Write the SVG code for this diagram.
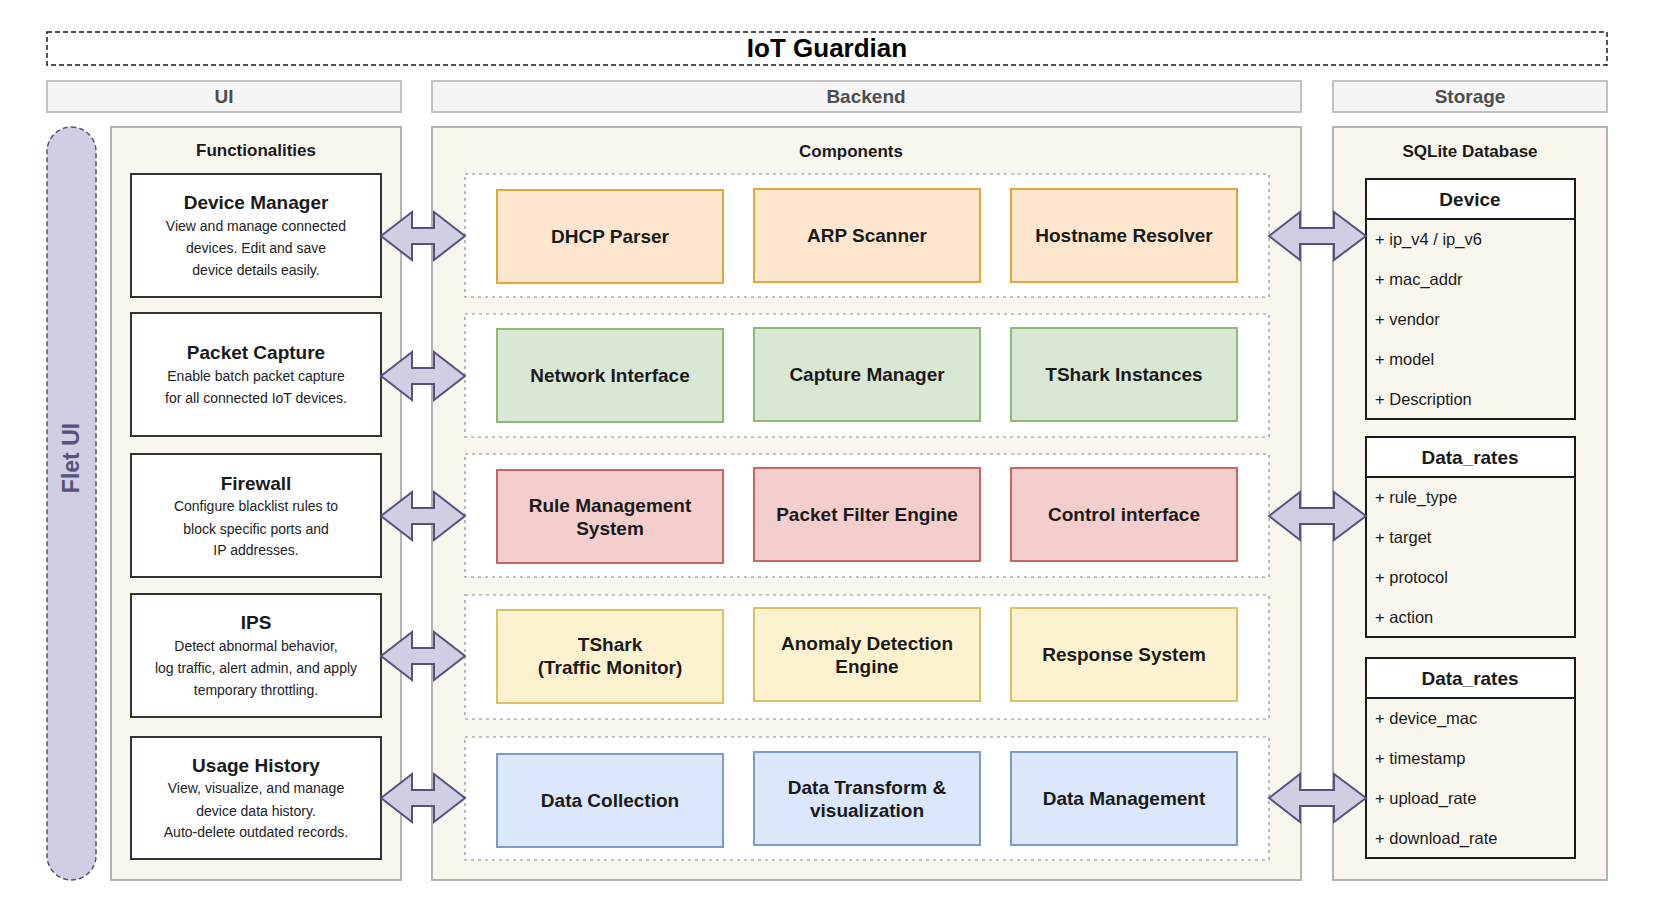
<svg xmlns="http://www.w3.org/2000/svg" width="1658" height="898" viewBox="0 0 1658 898">
<style>
text{font-family:"Liberation Sans",Arial,Helvetica,sans-serif;}
.hdr{fill:#f5f5f5;stroke:#c2c2c2;stroke-width:2;}
.hdrt{font-size:19px;font-weight:bold;fill:#4d4d4d;text-anchor:middle;}
.panel{fill:#f9f7ed;stroke:#b3b3b3;stroke-width:2;}
.pt{font-size:17px;font-weight:bold;fill:#1a1a1a;text-anchor:middle;}
.fbox{fill:#ffffff;stroke:#333333;stroke-width:2;}
.ft{font-size:19px;font-weight:bold;fill:#1a1a1a;text-anchor:middle;}
.fd{font-size:14px;fill:#222222;text-anchor:middle;}
.grp{fill:#ffffff;stroke:#8c8c8c;stroke-width:1.2;stroke-dasharray:3 4;}
.ct{font-size:19px;font-weight:bold;fill:#1a1a1a;text-anchor:middle;}
.or{fill:#fde6cd;stroke:#e0a83a;stroke-width:2;}
.gr{fill:#d8e8d5;stroke:#8dbb74;stroke-width:2;}
.rd{fill:#f3cecc;stroke:#c56763;stroke-width:2;}
.ye{fill:#fdf2cf;stroke:#dcc063;stroke-width:2;}
.bl{fill:#dbe7fa;stroke:#7c9acb;stroke-width:2;}
.arr{fill:#d0cee2;stroke:#56517e;stroke-width:2;stroke-linejoin:miter;}
.tbl{fill:none;stroke:#1a1a1a;stroke-width:2;}
.th{fill:#ffffff;stroke:#1a1a1a;stroke-width:2;}
.tht{font-size:19px;font-weight:bold;fill:#1a1a1a;text-anchor:middle;}
.tf{font-size:16.5px;fill:#1a1a1a;}
</style>

<g id="title">
<rect x="47" y="32" width="1560" height="33" fill="none" stroke="#1a1a1a" stroke-width="1.5" stroke-dasharray="5 3"/>
<text x="827" y="56.5" font-size="26" font-weight="bold" fill="#000" text-anchor="middle">IoT Guardian</text>
</g>

<g id="header-ui"><rect class="hdr" x="47" y="81" width="354" height="31"/><text class="hdrt" x="224" y="103">UI</text></g>
<g id="header-backend"><rect class="hdr" x="432" y="81" width="869" height="31"/><text class="hdrt" x="866" y="103">Backend</text></g>
<g id="header-storage"><rect class="hdr" x="1333" y="81" width="274" height="31"/><text class="hdrt" x="1470" y="103">Storage</text></g>

<g id="flet-ui">
<rect x="47" y="127" width="49" height="753" rx="24.5" ry="24.5" fill="#d0cee2" stroke="#56517e" stroke-width="1.5" stroke-dasharray="5 3"/>
<text x="79" y="458" font-size="23" font-weight="bold" fill="#56517e" text-anchor="middle" transform="rotate(-90 79 458)">Flet UI</text>
</g>

<g id="panel-functionalities">
<rect class="panel" x="111" y="127" width="290" height="753"/>
<text class="pt" x="256" y="156">Functionalities</text>
</g>
<g id="panel-components">
<rect class="panel" x="432" y="127" width="869" height="753"/>
<text class="pt" x="851" y="157">Components</text>
</g>
<g id="panel-storage">
<rect class="panel" x="1333" y="127" width="274" height="753"/>
<text class="pt" x="1470" y="157">SQLite Database</text>
</g>

<g id="device-manager">
<rect class="fbox" x="131" y="174" width="250" height="123"/>
<text class="ft" x="256" y="209">Device Manager</text>
<text class="fd" x="256" y="231">View and manage connected</text>
<text class="fd" x="256" y="253">devices. Edit and save</text>
<text class="fd" x="256" y="275">device details easily.</text>
</g>
<g id="packet-capture">
<rect class="fbox" x="131" y="313" width="250" height="123"/>
<text class="ft" x="256" y="359">Packet Capture</text>
<text class="fd" x="256" y="381">Enable batch packet capture</text>
<text class="fd" x="256" y="403">for all connected IoT devices.</text>
</g>
<g id="firewall">
<rect class="fbox" x="131" y="454" width="250" height="123"/>
<text class="ft" x="256" y="490">Firewall</text>
<text class="fd" x="256" y="511">Configure blacklist rules to</text>
<text class="fd" x="256" y="534">block specific ports and</text>
<text class="fd" x="256" y="555">IP addresses.</text>
</g>
<g id="ips">
<rect class="fbox" x="131" y="594" width="250" height="123"/>
<text class="ft" x="256" y="629">IPS</text>
<text class="fd" x="256" y="651">Detect abnormal behavior,</text>
<text class="fd" x="256" y="673">log traffic, alert admin, and apply</text>
<text class="fd" x="256" y="695">temporary throttling.</text>
</g>
<g id="usage-history">
<rect class="fbox" x="131" y="737" width="250" height="122"/>
<text class="ft" x="256" y="772">Usage History</text>
<text class="fd" x="256" y="793">View, visualize, and manage</text>
<text class="fd" x="256" y="816">device data history.</text>
<text class="fd" x="256" y="837">Auto-delete outdated records.</text>
</g>

<g id="group-discovery">
<rect class="grp" x="465" y="174" width="804" height="123"/>
<g id="dhcp-parser"><rect class="or" x="497" y="190" width="226" height="93"/><text class="ct" x="610" y="243">DHCP Parser</text></g>
<g id="arp-scanner"><rect class="or" x="754" y="189" width="226" height="93"/><text class="ct" x="867" y="242">ARP Scanner</text></g>
<g id="hostname-resolver"><rect class="or" x="1011" y="189" width="226" height="93"/><text class="ct" x="1124" y="242">Hostname Resolver</text></g>
</g>
<g id="group-capture">
<rect class="grp" x="465" y="314" width="804" height="123"/>
<g id="network-interface"><rect class="gr" x="497" y="329" width="226" height="93"/><text class="ct" x="610" y="382">Network Interface</text></g>
<g id="capture-manager"><rect class="gr" x="754" y="328" width="226" height="93"/><text class="ct" x="867" y="381">Capture Manager</text></g>
<g id="tshark-instances"><rect class="gr" x="1011" y="328" width="226" height="93"/><text class="ct" x="1124" y="381">TShark Instances</text></g>
</g>
<g id="group-firewall">
<rect class="grp" x="465" y="454" width="804" height="123"/>
<g id="rule-management"><rect class="rd" x="497" y="470" width="226" height="93"/><text class="ct" x="610" y="512">Rule Management</text><text class="ct" x="610" y="535">System</text></g>
<g id="packet-filter-engine"><rect class="rd" x="754" y="468" width="226" height="93"/><text class="ct" x="867" y="521">Packet Filter Engine</text></g>
<g id="control-interface"><rect class="rd" x="1011" y="468" width="226" height="93"/><text class="ct" x="1124" y="521">Control interface</text></g>
</g>
<g id="group-ips">
<rect class="grp" x="465" y="595" width="804" height="124"/>
<g id="tshark-monitor"><rect class="ye" x="497" y="610" width="226" height="93"/><text class="ct" x="610" y="651">TShark</text><text class="ct" x="610" y="674">(Traffic Monitor)</text></g>
<g id="anomaly-detection"><rect class="ye" x="754" y="608" width="226" height="93"/><text class="ct" x="867" y="650">Anomaly Detection</text><text class="ct" x="867" y="673">Engine</text></g>
<g id="response-system"><rect class="ye" x="1011" y="608" width="226" height="93"/><text class="ct" x="1124" y="661">Response System</text></g>
</g>
<g id="group-data">
<rect class="grp" x="465" y="737" width="804" height="123"/>
<g id="data-collection"><rect class="bl" x="497" y="754" width="226" height="93"/><text class="ct" x="610" y="807">Data Collection</text></g>
<g id="data-transform"><rect class="bl" x="754" y="752" width="226" height="93"/><text class="ct" x="867" y="794">Data Transform &amp;</text><text class="ct" x="867" y="817">visualization</text></g>
<g id="data-management"><rect class="bl" x="1011" y="752" width="226" height="93"/><text class="ct" x="1124" y="805">Data Management</text></g>
</g>

<g id="table-device">
<rect class="th" x="1366" y="179" width="209" height="40"/>
<rect class="tbl" x="1366" y="179" width="209" height="240"/>
<text class="tht" x="1470" y="206">Device</text>
<text class="tf" x="1375" y="245">+ ip_v4 / ip_v6</text>
<text class="tf" x="1375" y="285">+ mac_addr</text>
<text class="tf" x="1375" y="325">+ vendor</text>
<text class="tf" x="1375" y="365">+ model</text>
<text class="tf" x="1375" y="405">+ Description</text>
</g>
<g id="table-rules">
<rect class="th" x="1366" y="437" width="209" height="40"/>
<rect class="tbl" x="1366" y="437" width="209" height="200"/>
<text class="tht" x="1470" y="464">Data_rates</text>
<text class="tf" x="1375" y="503">+ rule_type</text>
<text class="tf" x="1375" y="543">+ target</text>
<text class="tf" x="1375" y="583">+ protocol</text>
<text class="tf" x="1375" y="623">+ action</text>
</g>
<g id="table-rates">
<rect class="th" x="1366" y="658" width="209" height="40"/>
<rect class="tbl" x="1366" y="658" width="209" height="200"/>
<text class="tht" x="1470" y="685">Data_rates</text>
<text class="tf" x="1375" y="724">+ device_mac</text>
<text class="tf" x="1375" y="764">+ timestamp</text>
<text class="tf" x="1375" y="804">+ upload_rate</text>
<text class="tf" x="1375" y="844">+ download_rate</text>
</g>

<g id="connectors">
<polygon class="arr" points="381,236 412,212 412,228 434,228 434,212 465,236 434,260 434,244 412,244 412,260"/>
<polygon class="arr" points="381,376 412,352 412,368 434,368 434,352 465,376 434,400 434,384 412,384 412,400"/>
<polygon class="arr" points="381,516 412,492 412,508 434,508 434,492 465,516 434,540 434,524 412,524 412,540"/>
<polygon class="arr" points="381,656 412,632 412,648 434,648 434,632 465,656 434,680 434,664 412,664 412,680"/>
<polygon class="arr" points="381,798 412,774 412,790 434,790 434,774 465,798 434,822 434,806 412,806 412,822"/>
<polygon class="arr" points="1269,236 1300,212 1300,228 1334,228 1334,212 1366,236 1334,260 1334,244 1300,244 1300,260"/>
<polygon class="arr" points="1269,516 1300,492 1300,508 1334,508 1334,492 1366,516 1334,540 1334,524 1300,524 1300,540"/>
<polygon class="arr" points="1269,798 1300,774 1300,790 1334,790 1334,774 1366,798 1334,822 1334,806 1300,806 1300,822"/>
</g>
</svg>
